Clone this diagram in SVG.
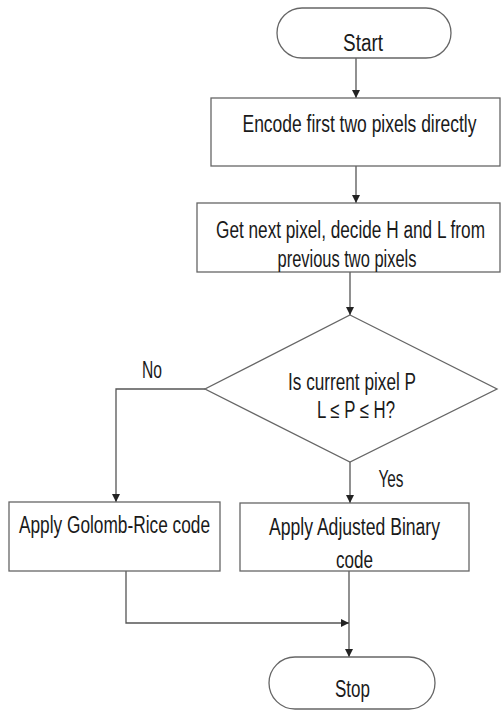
<svg xmlns="http://www.w3.org/2000/svg" width="503" height="713" viewBox="0 0 503 713">
<style>
.shape{fill:#ffffff;stroke:#666666;stroke-width:1.3}
.conn{fill:none;stroke:#555555;stroke-width:1.3}
text{font-family:"Liberation Sans",Arial,sans-serif;font-size:23px;fill:#1a1a1a;text-anchor:middle}
</style>
<defs>
<marker id="arr" viewBox="0 0 10 10" refX="10" refY="5" markerWidth="8" markerHeight="8" markerUnits="userSpaceOnUse" orient="auto">
<path d="M0,0 L10,5 L0,10 z" fill="#222222"/>
</marker>
</defs>
<rect width="503" height="713" fill="#ffffff"/>
<g id="connectors">
<line class="conn" x1="356" y1="58" x2="356" y2="98" marker-end="url(#arr)"/>
<line class="conn" x1="356" y1="166" x2="356" y2="203" marker-end="url(#arr)"/>
<line class="conn" x1="350" y1="272" x2="350" y2="315" marker-end="url(#arr)"/>
<polyline class="conn" points="205,389 116,389 116,502" marker-end="url(#arr)"/>
<line class="conn" x1="350" y1="462" x2="350" y2="503" marker-end="url(#arr)"/>
<line class="conn" x1="349" y1="571" x2="349" y2="657" marker-end="url(#arr)"/>
<polyline class="conn" points="126,571 126,623 349,623" marker-end="url(#arr)"/>
</g>
<g id="start">
<rect class="shape" x="277" y="8" width="174" height="50" rx="25" ry="25"/>
<text x="363" y="51" font-size="27" textLength="40" lengthAdjust="spacingAndGlyphs">Start</text>
</g>
<g id="encode">
<rect class="shape" x="211" y="98" width="289" height="68"/>
<text x="359.5" y="132" textLength="234" lengthAdjust="spacingAndGlyphs">Encode first two pixels directly</text>
</g>
<g id="getnext">
<rect class="shape" x="197" y="203" width="303" height="69"/>
<text x="350.5" y="238" textLength="269" lengthAdjust="spacingAndGlyphs">Get next pixel, decide H and L from</text>
<text x="347" y="267" textLength="139" lengthAdjust="spacingAndGlyphs">previous two pixels</text>
</g>
<g id="decision">
<polygon class="shape" points="350,315 497,389 350,462 205,389"/>
<text x="352" y="390" textLength="128" lengthAdjust="spacingAndGlyphs">Is current pixel P</text>
<text x="356" y="418" textLength="78" lengthAdjust="spacingAndGlyphs">L ≤ P ≤ H?</text>
</g>
<g id="label-no">
<text x="152" y="378" font-size="19" textLength="20" lengthAdjust="spacingAndGlyphs">No</text>
</g>
<g id="label-yes">
<text x="391" y="487" font-size="21" textLength="25" lengthAdjust="spacingAndGlyphs">Yes</text>
</g>
<g id="golomb">
<rect class="shape" x="9" y="502" width="211" height="69"/>
<text x="114.5" y="533" textLength="191" lengthAdjust="spacingAndGlyphs">Apply Golomb-Rice code</text>
</g>
<g id="adjusted">
<rect class="shape" x="240" y="503" width="229" height="68"/>
<text x="354.5" y="535" textLength="171" lengthAdjust="spacingAndGlyphs">Apply Adjusted Binary</text>
<text x="354.5" y="568" textLength="37" lengthAdjust="spacingAndGlyphs">code</text>
</g>
<g id="stop">
<rect class="shape" x="269" y="657" width="166" height="52" rx="26" ry="26"/>
<text x="352.5" y="697" font-size="21" textLength="35" lengthAdjust="spacingAndGlyphs">Stop</text>
</g>
</svg>
